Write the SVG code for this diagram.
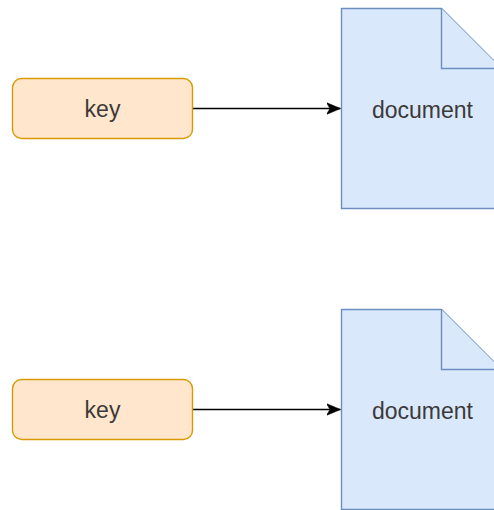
<svg xmlns="http://www.w3.org/2000/svg" width="494" height="510" viewBox="0 0 494 510">
  <style>
    .key { fill: #ffe6cc; stroke: #d79b00; stroke-width: 1.4; }
    .doc { fill: #dae8fc; stroke: #6c8ebf; stroke-width: 1.4; }
    .edge { fill: none; stroke: #000000; stroke-width: 1.4; }
    .label { font-family: "Liberation Sans", Arial, sans-serif; font-size: 23px; fill: #3a3a3a; text-anchor: middle; }
  </style>
  <defs>
    <marker id="arrow" viewBox="0 0 10 10" refX="10" refY="5" markerWidth="14" markerHeight="14" markerUnits="userSpaceOnUse" orient="auto">
      <path d="M10,5 L0,0.8 L2.5,5 L0,9.2 Z" fill="#000000" stroke="#000000" stroke-width="0.4"/>
    </marker>
  </defs>
  <rect width="494" height="510" fill="#ffffff"/>

  <g id="edges">
    <line class="edge" x1="192.5" y1="108.5" x2="340.5" y2="108.5" marker-end="url(#arrow)"/>
    <line class="edge" x1="192.5" y1="409.5" x2="340.5" y2="409.5" marker-end="url(#arrow)"/>
  </g>

  <g id="key1">
    <rect class="key" x="12.5" y="78.5" width="180" height="60" rx="9" ry="9"/>
    <text class="label" x="102.5" y="117">key</text>
  </g>
  <g id="doc1">
    <path class="doc" d="M341.5,8.5 H441.5 L501.5,68.5 V208.5 H341.5 Z"/>
    <path class="doc" d="M441.5,8.5 V68.5 H501.5"/>
    <text class="label" x="422.5" y="118">document</text>
  </g>

  <g id="key2">
    <rect class="key" x="12.5" y="379.5" width="180" height="60" rx="9" ry="9"/>
    <text class="label" x="102.5" y="418">key</text>
  </g>
  <g id="doc2">
    <path class="doc" d="M341.5,309.5 H441.5 L501.5,369.5 V509.5 H341.5 Z"/>
    <path class="doc" d="M441.5,309.5 V369.5 H501.5"/>
    <text class="label" x="422.5" y="419">document</text>
  </g>
</svg>
